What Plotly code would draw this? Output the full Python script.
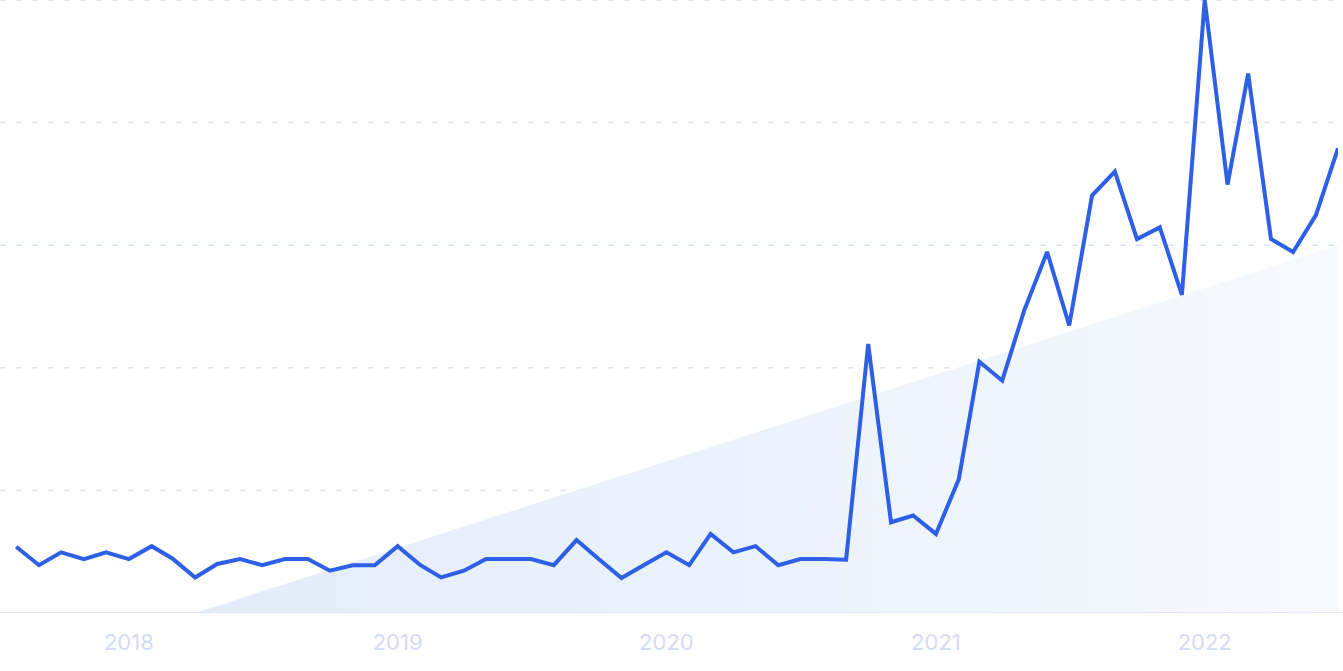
import plotly.graph_objects as go
import pandas as pd

# Monthly dates Aug 2017 .. Jul 2022
months = pd.date_range("2017-08-01", "2022-07-01", freq="MS")

values = [
    10.8, 7.8, 9.9, 8.8, 9.9, 8.8, 10.9, 8.9, 5.8, 8.0,
    8.8, 7.8, 8.8, 8.8, 6.9, 7.8, 7.8, 10.9, 7.8, 5.8,
    6.9, 8.8, 8.8, 8.8, 7.8, 11.9, 8.8, 5.7, 7.8, 9.9,
    7.8, 12.9, 9.9, 10.9, 7.8, 8.8, 8.8, 8.7, 43.9, 14.8,
    15.9, 12.9, 21.8, 41.0, 37.9, 49.4, 58.9, 46.9, 68.1, 72.0,
    61.0, 62.9, 51.9, 100.0, 69.9, 88.0, 61.0, 58.9, 64.9, 75.8,
]

# Trend line (start / end of the shaded trend area)
trend_dates = [months[0], months[-1]]
trend_values = [-9.4, 60.0]

tick_dates = ["2018-01-01", "2019-01-01", "2020-01-01", "2021-01-01", "2022-01-01"]
tick_labels = ["2018", "2019", "2020", "2021", "2022"]
grid_values = [20, 40, 60, 80, 100]

GRID = "#dbe4f8"

fig = go.Figure()

fig.add_trace(go.Scatter(
    x=trend_dates, y=trend_values,
    mode="lines", line=dict(width=0, color="rgba(0,0,0,0)"),
    fill="tozeroy",
    fillgradient=dict(
        type="horizontal",
        colorscale=[[0, "rgba(224,235,250,1)"], [0.6, "rgba(236,243,252,1)"], [1, "rgba(247,250,254,1)"]],
    ),
    hoverinfo="skip", showlegend=False,
))

fig.add_trace(go.Scatter(
    x=months, y=values, mode="lines",
    line=dict(color="#2e5fe7", width=4),
    showlegend=False,
))

for gv in grid_values:
    fig.add_shape(type="line", xref="paper", yref="y", x0=0, x1=0.998, y0=gv, y1=gv,
                  line=dict(color=GRID, width=1.5, dash="6px,10px"), layer="below")

fig.add_shape(type="line", xref="paper", yref="y", x0=0, x1=1.01, y0=0, y1=0,
              line=dict(color="#d9e3f6", width=1.5), layer="above")

fig.update_layout(
    width=1343, height=671,
    margin=dict(l=0, r=5, t=0, b=58),
    paper_bgcolor="white", plot_bgcolor="white",
    font=dict(family="Inter", color="#d3dcf4", size=22),
    xaxis=dict(
        range=[pd.Timestamp("2017-07-10"), months[-1]],
        tickvals=tick_dates, ticktext=tick_labels,
        showgrid=False, zeroline=False, showline=False,
        ticks="", ticklabelstandoff=14,
        tickfont=dict(family="Inter", size=22, color="#d3dcf4"),
    ),
    yaxis=dict(
        range=[0, 100],
        showticklabels=False, showgrid=False,
        zeroline=False, showline=False,
    ),
)

fig.write_html(
    "out.html",
    config={"displayModeBar": False},
    post_script="document.body.style.margin='0';document.body.style.overflow='hidden';",
)
